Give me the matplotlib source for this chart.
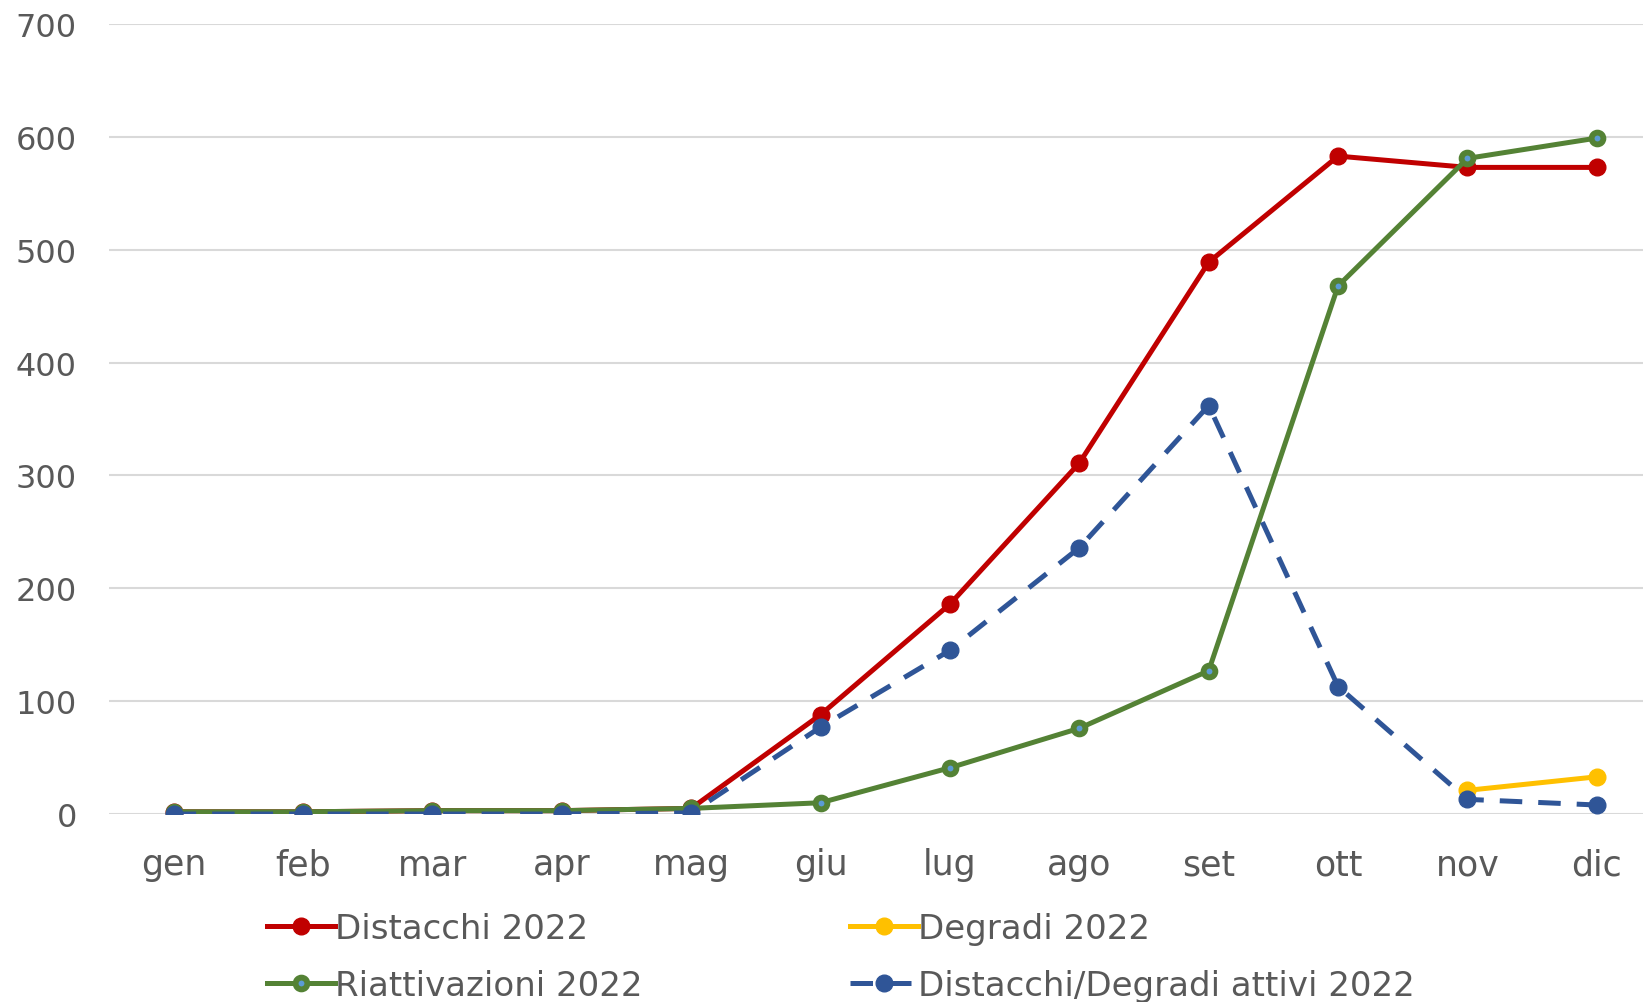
import numpy as np
import matplotlib
matplotlib.use("Agg")
import matplotlib.pyplot as plt

plt.rcParams['font.family'] = ['DejaVu Sans']

mesi = ['gen', 'feb', 'mar', 'apr', 'mag', 'giu', 'lug', 'ago', 'set', 'ott', 'nov', 'dic']
distacchi = [2, 2, 3, 3, 5, 88, 186, 311, 489, 583, 573, 573]
degradi = [np.nan] * 10 + [21, 33]
riattivazioni = [2, 2, 3, 3, 5, 10, 41, 76, 127, 468, 581, 599]
attivi = [0, 0, 0, 0, 1, 77, 145, 236, 362, 113, 13, 8]

grigio = '#595959'
x = np.arange(len(mesi))

fig = plt.figure(figsize=(16.43, 10.03), dpi=100)
ax = fig.add_axes([0.0663, 0.1874, 0.945, 0.7876])

l1, = ax.plot(x, distacchi, color='#C00000', lw=3.6, marker='o', ms=12,
              label='Distacchi 2022', zorder=3)
l2, = ax.plot(x, degradi, color='#FFC000', lw=3.6, marker='o', ms=12,
              label='Degradi 2022', zorder=3)
l3, = ax.plot(x, riattivazioni, color='#548235', lw=3.6, marker='o', ms=8.5,
              mfc='#5B9BD5', mec='#548235', mew=4.2,
              label='Riattivazioni 2022', zorder=4)
l4, = ax.plot(x, attivi, color='#2F5597', lw=3.6, marker='o', ms=12,
              dashes=(4.5, 3.2), label='Distacchi/Degradi attivi 2022', zorder=5)

ax.set_xlim(-0.5, 11.5)
ax.set_ylim(0, 700)
ax.set_yticks(range(0, 701, 100))
ax.set_xticks(x)
ax.set_xticklabels(mesi)
ax.grid(axis='y', color='#D9D9D9', lw=1.5)
ax.set_axisbelow(True)
for s in ax.spines.values():
    s.set_visible(False)
ax.tick_params(length=0, colors=grigio)
ax.tick_params(axis='x', labelsize=25, pad=24)
ax.tick_params(axis='y', labelsize=23, pad=23)

leg = fig.legend(handles=[l1, l3, l2, l4], ncol=2, loc='upper left',
                 bbox_to_anchor=(0.1626, 0.090), frameon=False, fontsize=24.5,
                 handlelength=2.0, handletextpad=0.0, columnspacing=6.1,
                 labelspacing=0.71, borderaxespad=0, borderpad=0)
for t in leg.get_texts():
    t.set_color(grigio)

fig.savefig('out.png', dpi=100)
